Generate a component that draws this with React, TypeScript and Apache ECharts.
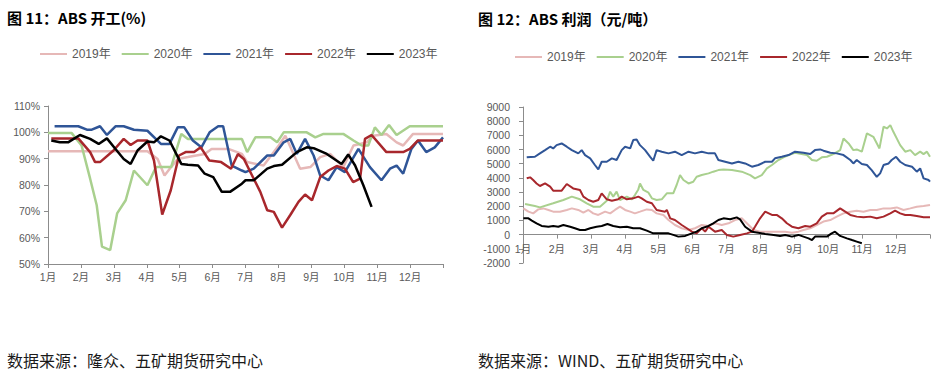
import React, { useEffect, useRef } from 'react';
import * as echarts from 'echarts';

const years = ['2019年', '2020年', '2021年', '2022年', '2023年'];
const colors = ['#E6B8B7', '#A9D08E', '#2F5597', '#A8272C', '#000000'];
const monthLabels = ['1月', '2月', '3月', '4月', '5月', '6月', '7月', '8月', '9月', '10月', '11月', '12月'];

const titleLeft = '图 11：ABS 开工(%)';
const titleRight = '图 12：ABS 利润（元/吨）';
const sourceLeft = '数据来源：隆众、五矿期货研究中心';
const sourceRight = '数据来源：WIND、五矿期货研究中心';

// Left chart: ABS operating rate (%), [month position, value]
const rate2019 = [[0, 92.8], [3.02, 92.8], [3.33, 89.9], [3.54, 83.6], [3.74, 86.8], [3.94, 89.9], [4.25, 90.6], [4.76, 91.8], [4.97, 93.7], [5.48, 93.7], [5.89, 91.8], [6.05, 88.7], [6.55, 87.4], [7.01, 95], [7.21, 98.7], [7.66, 86.2], [7.97, 86.8], [8.27, 90.6], [8.57, 91.8], [8.97, 86.8], [9.28, 95], [9.48, 95.6], [9.68, 96.2], [9.88, 98.7], [10.28, 99.4], [10.59, 96.2], [10.79, 95], [11.09, 99.4], [12, 99.4]];
const rate2020 = [[0, 99.7], [0.72, 99.7], [1.02, 95], [1.28, 82.4], [1.48, 72.3], [1.64, 56.6], [1.89, 55.3], [2.1, 69.2], [2.36, 74.2], [2.61, 85.5], [3.02, 79.9], [3.28, 86.8], [3.74, 86.8], [4.05, 99.4], [4.25, 97.5], [5.89, 97.5], [6.05, 92.5], [6.3, 98.1], [6.76, 98.1], [6.96, 96.2], [7.16, 100], [7.86, 100], [8.12, 98.1], [8.37, 99.4], [8.97, 99.4], [9.28, 96.9], [9.53, 95], [9.73, 95], [9.93, 101.9], [10.13, 99], [10.36, 102.8], [10.59, 99], [10.99, 102.3], [12, 102.3]];
const rate2021 = [[0.2, 102.3], [0.92, 102.3], [1.18, 101], [1.33, 101], [1.58, 102.3], [1.79, 99], [2.05, 102.3], [2.3, 102.3], [2.61, 101], [3.02, 100.6], [3.43, 95.6], [3.69, 95.6], [3.94, 101.9], [4.14, 101.9], [4.4, 96.9], [4.66, 94.3], [4.91, 100], [5.17, 102.3], [5.32, 102.3], [5.58, 87.4], [5.89, 85.5], [6.0, 84.9], [6.25, 86.2], [6.66, 91.2], [6.86, 91.2], [7.16, 96.2], [7.36, 97.5], [7.56, 91.8], [7.81, 97.5], [8.07, 91.2], [8.27, 83.6], [8.52, 81.8], [8.77, 86.8], [9.02, 84.9], [9.43, 93.7], [9.78, 86.8], [10.13, 81.8], [10.39, 86.2], [10.59, 87.4], [10.79, 84.3], [11.04, 93.7], [11.24, 96.9], [11.49, 92.5], [11.75, 94.3], [12, 98.1]];
const rate2022 = [[0.1, 97.7], [0.92, 97.7], [1.28, 92.5], [1.43, 88.7], [1.58, 88.7], [1.99, 93.1], [2.3, 97.5], [2.51, 95.2], [2.72, 96.9], [3.02, 96.9], [3.22, 89.3], [3.47, 68.8], [3.73, 78], [3.98, 91.2], [4.18, 92.5], [4.44, 92.5], [4.64, 94.3], [4.9, 89.3], [5.26, 88.7], [5.56, 86.2], [5.77, 91.8], [5.95, 89.9], [6.2, 83.6], [6.45, 77.4], [6.66, 70.4], [6.86, 69.8], [7.11, 63.8], [7.36, 68.6], [7.61, 73.6], [7.81, 76.4], [8.02, 74.2], [8.27, 83], [8.52, 85.5], [8.77, 87.2], [9.02, 86.2], [9.27, 81.1], [9.48, 82.4], [9.63, 97.5], [9.83, 99], [10.28, 92.5], [10.79, 92.5], [10.99, 93.7], [11.24, 96.9], [12, 96.9]];
const rate2023 = [[0.1, 96.9], [0.36, 96.2], [0.61, 96.2], [0.97, 99], [1.28, 97.5], [1.54, 95.6], [1.79, 97.7], [2.05, 93.7], [2.3, 89.9], [2.51, 88], [2.72, 93.1], [3.02, 96.5], [3.22, 96.2], [3.43, 98.5], [3.69, 96.9], [4.05, 88], [4.25, 87.7], [4.56, 87.4], [4.76, 84.3], [5.02, 83], [5.28, 77.4], [5.53, 77.4], [5.89, 80.5], [6.0, 81.8], [6.25, 81.8], [6.66, 86.2], [6.86, 87.2], [7.11, 87.7], [7.56, 92.5], [7.86, 94.3], [8.07, 94], [8.47, 91.8], [8.92, 88], [9.12, 91.6], [9.33, 87.4], [9.58, 79.9], [9.83, 71.7]];

// Right chart: ABS profit (yuan/ton), [month position, value]
const profit2019 = [[0.01, 1850], [0.16, 1620], [0.3, 1500], [0.45, 1780], [0.6, 1850], [0.75, 1740], [0.89, 1620], [1.09, 1620], [1.29, 1740], [1.44, 1850], [1.63, 1740], [1.78, 1550], [1.93, 1740], [2.07, 1500], [2.22, 1390], [2.42, 1620], [2.57, 1500], [2.71, 1740], [2.86, 1970], [3.01, 1740], [3.16, 1620], [3.3, 1500], [3.45, 1620], [3.65, 1780], [3.8, 1740], [3.94, 1500], [4.14, 1390], [4.29, 1030], [4.48, 680], [4.68, 450], [4.88, 330], [5.07, 450], [5.27, 680], [5.47, 610], [5.66, 800], [5.86, 680], [6.06, 800], [6.25, 1030], [6.45, 1150], [6.6, 800], [6.8, 330], [6.99, 210], [7.24, 210], [7.48, 210], [7.73, 210], [7.93, 140], [8.12, 210], [8.27, 330], [8.47, 450], [8.66, 680], [8.86, 920], [9.06, 1030], [9.25, 1270], [9.45, 1500], [9.65, 1620], [9.84, 1690], [10.04, 1620], [10.24, 1740], [10.43, 1740], [10.63, 1850], [10.83, 1850], [11.02, 1920], [11.22, 1740], [11.42, 1850], [11.61, 1970], [11.81, 2020], [12, 2090]];
const profit2020 = [[0.06, 2160], [0.35, 2020], [0.5, 1920], [0.89, 2210], [1.19, 2440], [1.44, 2680], [1.68, 2490], [1.88, 2210], [2.07, 1970], [2.27, 1970], [2.47, 2390], [2.57, 3030], [2.66, 2680], [2.76, 3030], [2.86, 2440], [3.06, 2680], [3.21, 2490], [3.3, 2790], [3.4, 3190], [3.45, 3610], [3.55, 3150], [3.7, 2960], [3.8, 2560], [3.94, 2440], [4.09, 2490], [4.24, 2910], [4.43, 2910], [4.53, 3500], [4.63, 4200], [4.73, 3850], [4.88, 3610], [5.02, 3730], [5.12, 4080], [5.27, 4200], [5.47, 4320], [5.61, 4440], [5.76, 4550], [5.91, 4600], [6.16, 4550], [6.45, 4440], [6.7, 4200], [6.84, 3970], [7.04, 4200], [7.19, 4670], [7.34, 4910], [7.53, 5260], [7.68, 5450], [7.83, 5610], [8.02, 5770], [8.37, 5610], [8.52, 5260], [8.66, 5210], [8.81, 5450], [8.96, 5490], [9.15, 5680], [9.35, 5960], [9.45, 6780], [9.6, 6430], [9.74, 5960], [9.84, 6010], [9.99, 5850], [10.14, 7140], [10.33, 6900], [10.51, 6080], [10.63, 7610], [10.73, 7490], [10.83, 7720], [10.92, 7250], [11.12, 6310], [11.27, 5850], [11.42, 5960], [11.56, 5610], [11.71, 5850], [11.81, 5680], [11.91, 5850], [12, 5490]];
const profit2021 = [[0.11, 5450], [0.35, 5490], [0.5, 5730], [0.65, 5960], [0.8, 6200], [0.89, 6080], [0.99, 6310], [1.14, 6430], [1.29, 6200], [1.44, 5960], [1.63, 5730], [1.73, 5960], [1.83, 5610], [1.98, 5380], [2.12, 4910], [2.22, 4600], [2.32, 5140], [2.47, 5140], [2.62, 5380], [2.76, 5260], [2.91, 5960], [3.01, 6200], [3.16, 6080], [3.25, 6670], [3.35, 6710], [3.45, 6310], [3.6, 5960], [3.75, 5490], [3.84, 5210], [3.94, 5960], [4.09, 5850], [4.29, 5730], [4.48, 5850], [4.68, 5610], [4.88, 5850], [5.07, 5730], [5.27, 5850], [5.47, 5730], [5.66, 5730], [5.76, 5260], [5.96, 5140], [6.16, 5020], [6.35, 5140], [6.55, 5020], [6.75, 4790], [6.94, 4910], [7.14, 5140], [7.34, 5140], [7.43, 5380], [7.63, 5490], [7.83, 5610], [8.02, 5850], [8.27, 5770], [8.47, 5680], [8.61, 5960], [8.76, 6010], [8.86, 5920], [9.06, 5770], [9.25, 5730], [9.45, 5610], [9.65, 5260], [9.74, 5020], [9.84, 5260], [9.99, 4980], [10.14, 4910], [10.28, 4550], [10.43, 4080], [10.53, 4320], [10.63, 4910], [10.78, 5020], [10.87, 5260], [11.0, 5490], [11.12, 5140], [11.27, 4910], [11.47, 4790], [11.61, 4440], [11.71, 4670], [11.81, 3970], [11.96, 3850], [12, 3730]];
const profit2022 = [[0.11, 3970], [0.21, 4040], [0.3, 3850], [0.4, 3610], [0.5, 3430], [0.65, 3610], [0.8, 3380], [0.89, 3100], [1.14, 3100], [1.29, 3570], [1.48, 3260], [1.68, 3150], [1.78, 2680], [1.93, 2440], [2.07, 2320], [2.22, 2440], [2.32, 2910], [2.47, 2490], [2.62, 2390], [2.81, 2490], [2.91, 2680], [3.06, 2490], [3.25, 2560], [3.4, 2680], [3.5, 2560], [3.65, 2320], [3.8, 2210], [3.94, 1740], [4.19, 1620], [4.24, 1740], [4.34, 1150], [4.48, 1030], [4.68, 680], [4.83, 450], [4.98, 210], [5.12, 90], [5.27, 450], [5.37, 210], [5.47, 560], [5.66, 210], [5.86, 330], [6.01, -20], [6.2, -140], [6.4, -20], [6.6, 90], [6.75, 210], [6.84, 560], [6.99, 1150], [7.14, 1620], [7.34, 1390], [7.48, 1390], [7.63, 1150], [7.78, 800], [7.93, 560], [8.12, 450], [8.32, 610], [8.47, 560], [8.66, 800], [8.81, 1270], [8.96, 1500], [9.15, 1500], [9.35, 1850], [9.5, 1620], [9.65, 1390], [9.84, 1270], [10.04, 1220], [10.24, 1270], [10.43, 1150], [10.63, 1270], [10.83, 1500], [10.97, 1690], [11.12, 1500], [11.27, 1390], [11.42, 1390], [11.61, 1310], [11.81, 1220], [12, 1220]];
const profit2023 = [[0.01, 1150], [0.16, 1150], [0.26, 990], [0.4, 800], [0.55, 610], [0.75, 560], [0.89, 610], [1.04, 560], [1.19, 680], [1.39, 560], [1.53, 450], [1.68, 330], [1.83, 330], [1.98, 450], [2.17, 560], [2.32, 610], [2.49, 750], [2.66, 610], [2.86, 520], [3.06, 560], [3.25, 450], [3.45, 450], [3.65, 280], [3.84, 90], [4.04, 90], [4.29, 90], [4.43, -20], [4.58, -140], [4.78, -90], [4.98, 90], [5.12, 210], [5.27, 450], [5.47, 610], [5.61, 800], [5.76, 1030], [5.91, 1150], [6.11, 1080], [6.3, 1220], [6.4, 1080], [6.55, 560], [6.75, 210], [6.94, 140], [7.14, 50], [7.39, -20], [7.58, -90], [7.73, -20], [7.93, -140], [8.12, -20], [8.42, -260], [8.52, -380], [8.61, -140], [8.76, -140], [8.96, -140], [9.1, 90], [9.2, 210], [9.35, -90], [9.55, -260], [9.7, -380], [9.84, -490], [9.99, -610]];

const rateSeries = [rate2019, rate2020, rate2021, rate2022, rate2023];
const profitSeries = [profit2019, profit2020, profit2021, profit2022, profit2023];

const labelFont = "'Liberation Sans', 'Noto Sans CJK SC', sans-serif";
const cjkFont = "'Noto Sans CJK SC', sans-serif";
const axisGray = '#8C8C8C';
const textGray = '#595959';

export default function App() {
  const ref = useRef<HTMLDivElement>(null);

  useEffect(() => {
    if (!ref.current) return;
    const chart = echarts.init(ref.current, null, { renderer: 'svg' });

    const monthFormatter = (v: number) => (v >= 0 && v < 12 && Number.isInteger(v) ? monthLabels[v] : '');

    const xAxisBase = {
      type: 'value',
      min: 0,
      max: 12,
      interval: 1,
      splitLine: { show: false },
      axisLine: { show: true, onZero: false, lineStyle: { color: axisGray, width: 1 } },
      axisTick: { show: true, length: 4, lineStyle: { color: axisGray } },
      axisLabel: { formatter: monthFormatter, color: textGray, fontSize: 10.5, fontFamily: labelFont, margin: 8 },
    };

    const legendBase = {
      icon: 'rect',
      itemWidth: 27,
      itemHeight: 2,
      itemGap: 11,
      padding: 0,
      textStyle: { color: textGray, fontSize: 12, fontFamily: labelFont },
      data: years,
    };

    const series: any[] = [];
    years.forEach((name, i) => {
      series.push({
        name,
        type: 'line',
        xAxisIndex: 0,
        yAxisIndex: 0,
        data: rateSeries[i],
        showSymbol: false,
        lineStyle: { color: colors[i], width: 2.5 },
        itemStyle: { color: colors[i] },
        z: 2 + i,
      });
    });
    years.forEach((name, i) => {
      series.push({
        name,
        type: 'line',
        xAxisIndex: 1,
        yAxisIndex: 1,
        data: profitSeries[i],
        showSymbol: false,
        lineStyle: { color: colors[i], width: 2 },
        itemStyle: { color: colors[i] },
        z: 2 + i,
      });
    });

    // right chart: month axis drawn at the zero line (grid top 107, height 156, range -2000..9000)
    const zeroOffset = -(156 * 2000) / 11000;

    chart.setOption({
      animation: false,
      backgroundColor: '#ffffff',
      title: [
        { text: titleLeft, left: 7, top: 10, padding: 0, textStyle: { fontSize: 15, fontWeight: 'bold', color: '#000', fontFamily: cjkFont } },
        { text: titleRight, left: 478, top: 11, padding: 0, textStyle: { fontSize: 15, fontWeight: 'bold', color: '#000', fontFamily: cjkFont } },
      ],
      legend: [
        { ...legendBase, left: 40, top: 48 },
        { ...legendBase, left: 515, top: 51 },
      ],
      grid: [
        { left: 48, top: 106, width: 395, height: 158 },
        { left: 523, top: 107, width: 407, height: 156 },
      ],
      xAxis: [
        { ...xAxisBase, gridIndex: 0 },
        { ...xAxisBase, gridIndex: 1, offset: zeroOffset, axisLabel: { ...xAxisBase.axisLabel, margin: 9 } },
      ],
      yAxis: [
        {
          type: 'value',
          gridIndex: 0,
          min: 50,
          max: 110,
          interval: 10,
          splitLine: { show: false },
          axisLine: { show: true, lineStyle: { color: axisGray } },
          axisTick: { show: true, length: 4, lineStyle: { color: axisGray } },
          axisLabel: { formatter: '{value}%', color: textGray, fontSize: 10.5, fontFamily: labelFont, margin: 8 },
        },
        {
          type: 'value',
          gridIndex: 1,
          min: -2000,
          max: 9000,
          interval: 1000,
          splitLine: { show: false },
          axisLine: { show: true, lineStyle: { color: axisGray } },
          axisTick: { show: true, length: 4, lineStyle: { color: axisGray } },
          axisLabel: { formatter: (v: number) => String(v), color: textGray, fontSize: 10.5, fontFamily: labelFont, margin: 13 },
        },
      ],
      graphic: [
        { type: 'text', left: 7, top: 352, style: { text: sourceLeft, fontSize: 16, fill: '#1a1a1a', fontFamily: cjkFont } },
        { type: 'text', left: 478, top: 352, style: { text: sourceRight, fontSize: 16, fill: '#1a1a1a', fontFamily: cjkFont } },
      ],
      series,
    });

    return () => chart.dispose();
  }, []);

  return (
    <div
      ref={ref}
      style={{ position: 'absolute', left: 0, top: 0, width: 944, height: 376, background: '#fff' }}
    />
  );
}
